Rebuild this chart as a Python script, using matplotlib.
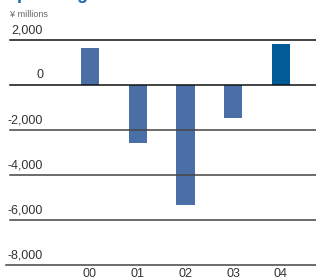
import matplotlib
matplotlib.use("Agg")
import matplotlib.pyplot as plt
import matplotlib.transforms as mtransforms

plt.rcParams['font.family'] = ['Liberation Sans', 'DejaVu Sans']

# data
years = ['00', '01', '02', '03', '04']
values = [1650, -2580, -5350, -1470, 1820]
bar_colors = ['#4a6fa6', '#4a6fa6', '#4a6fa6', '#4a6fa6', '#005b96']
gridvals = [2000, 0, -2000, -4000, -6000, -8000]
gridlabels = ['2,000', '0', '-2,000', '-4,000', '-6,000', '-8,000']

W, H = 316, 280
fig = plt.figure(figsize=(W / 100, H / 100), dpi=100)
ax = fig.add_axes([10 / W, 15 / H, 306 / W, 225 / H])

x = list(range(len(years)))
ax.bar(x, values, width=0.38, color=bar_colors, zorder=2)

ax.set_ylim(-8000, 2000)
ax.set_xlim(-1.675, 4.733)

# horizontal rules + labels sitting on top of them
trans = mtransforms.blended_transform_factory(ax.transAxes, ax.transData)
for v, lab in zip(gridvals, gridlabels):
    col = '#111111' if v >= 0 else '#444444'
    xmin = -0.013 if v == -8000 else 0
    ax.axhline(v, xmin=xmin, xmax=1, color=col, lw=1.1, zorder=3, clip_on=False)
    ax.text(0.108, v + 170, lab, transform=trans, ha='right', va='bottom',
            fontsize=9, color='#333333')

for s in ax.spines.values():
    s.set_visible(False)
ax.set_yticks([])
ax.set_xticks(x)
ax.set_xticklabels(years, fontsize=9, color='#333333')
ax.tick_params(axis='x', length=0, pad=2.5)

fig.text(10 / W, 1 - 17 / H, '¥ millions', fontsize=6.5, color='#666666',
         ha='left', va='baseline')
# title cut off by the top edge, only descenders show
fig.text(3 / W, 1 + 1 / H, 'Operating Income', fontsize=13, fontweight='bold',
         color='#1f6bb0', ha='left', va='baseline')

fig.savefig('out.png', dpi=100)
